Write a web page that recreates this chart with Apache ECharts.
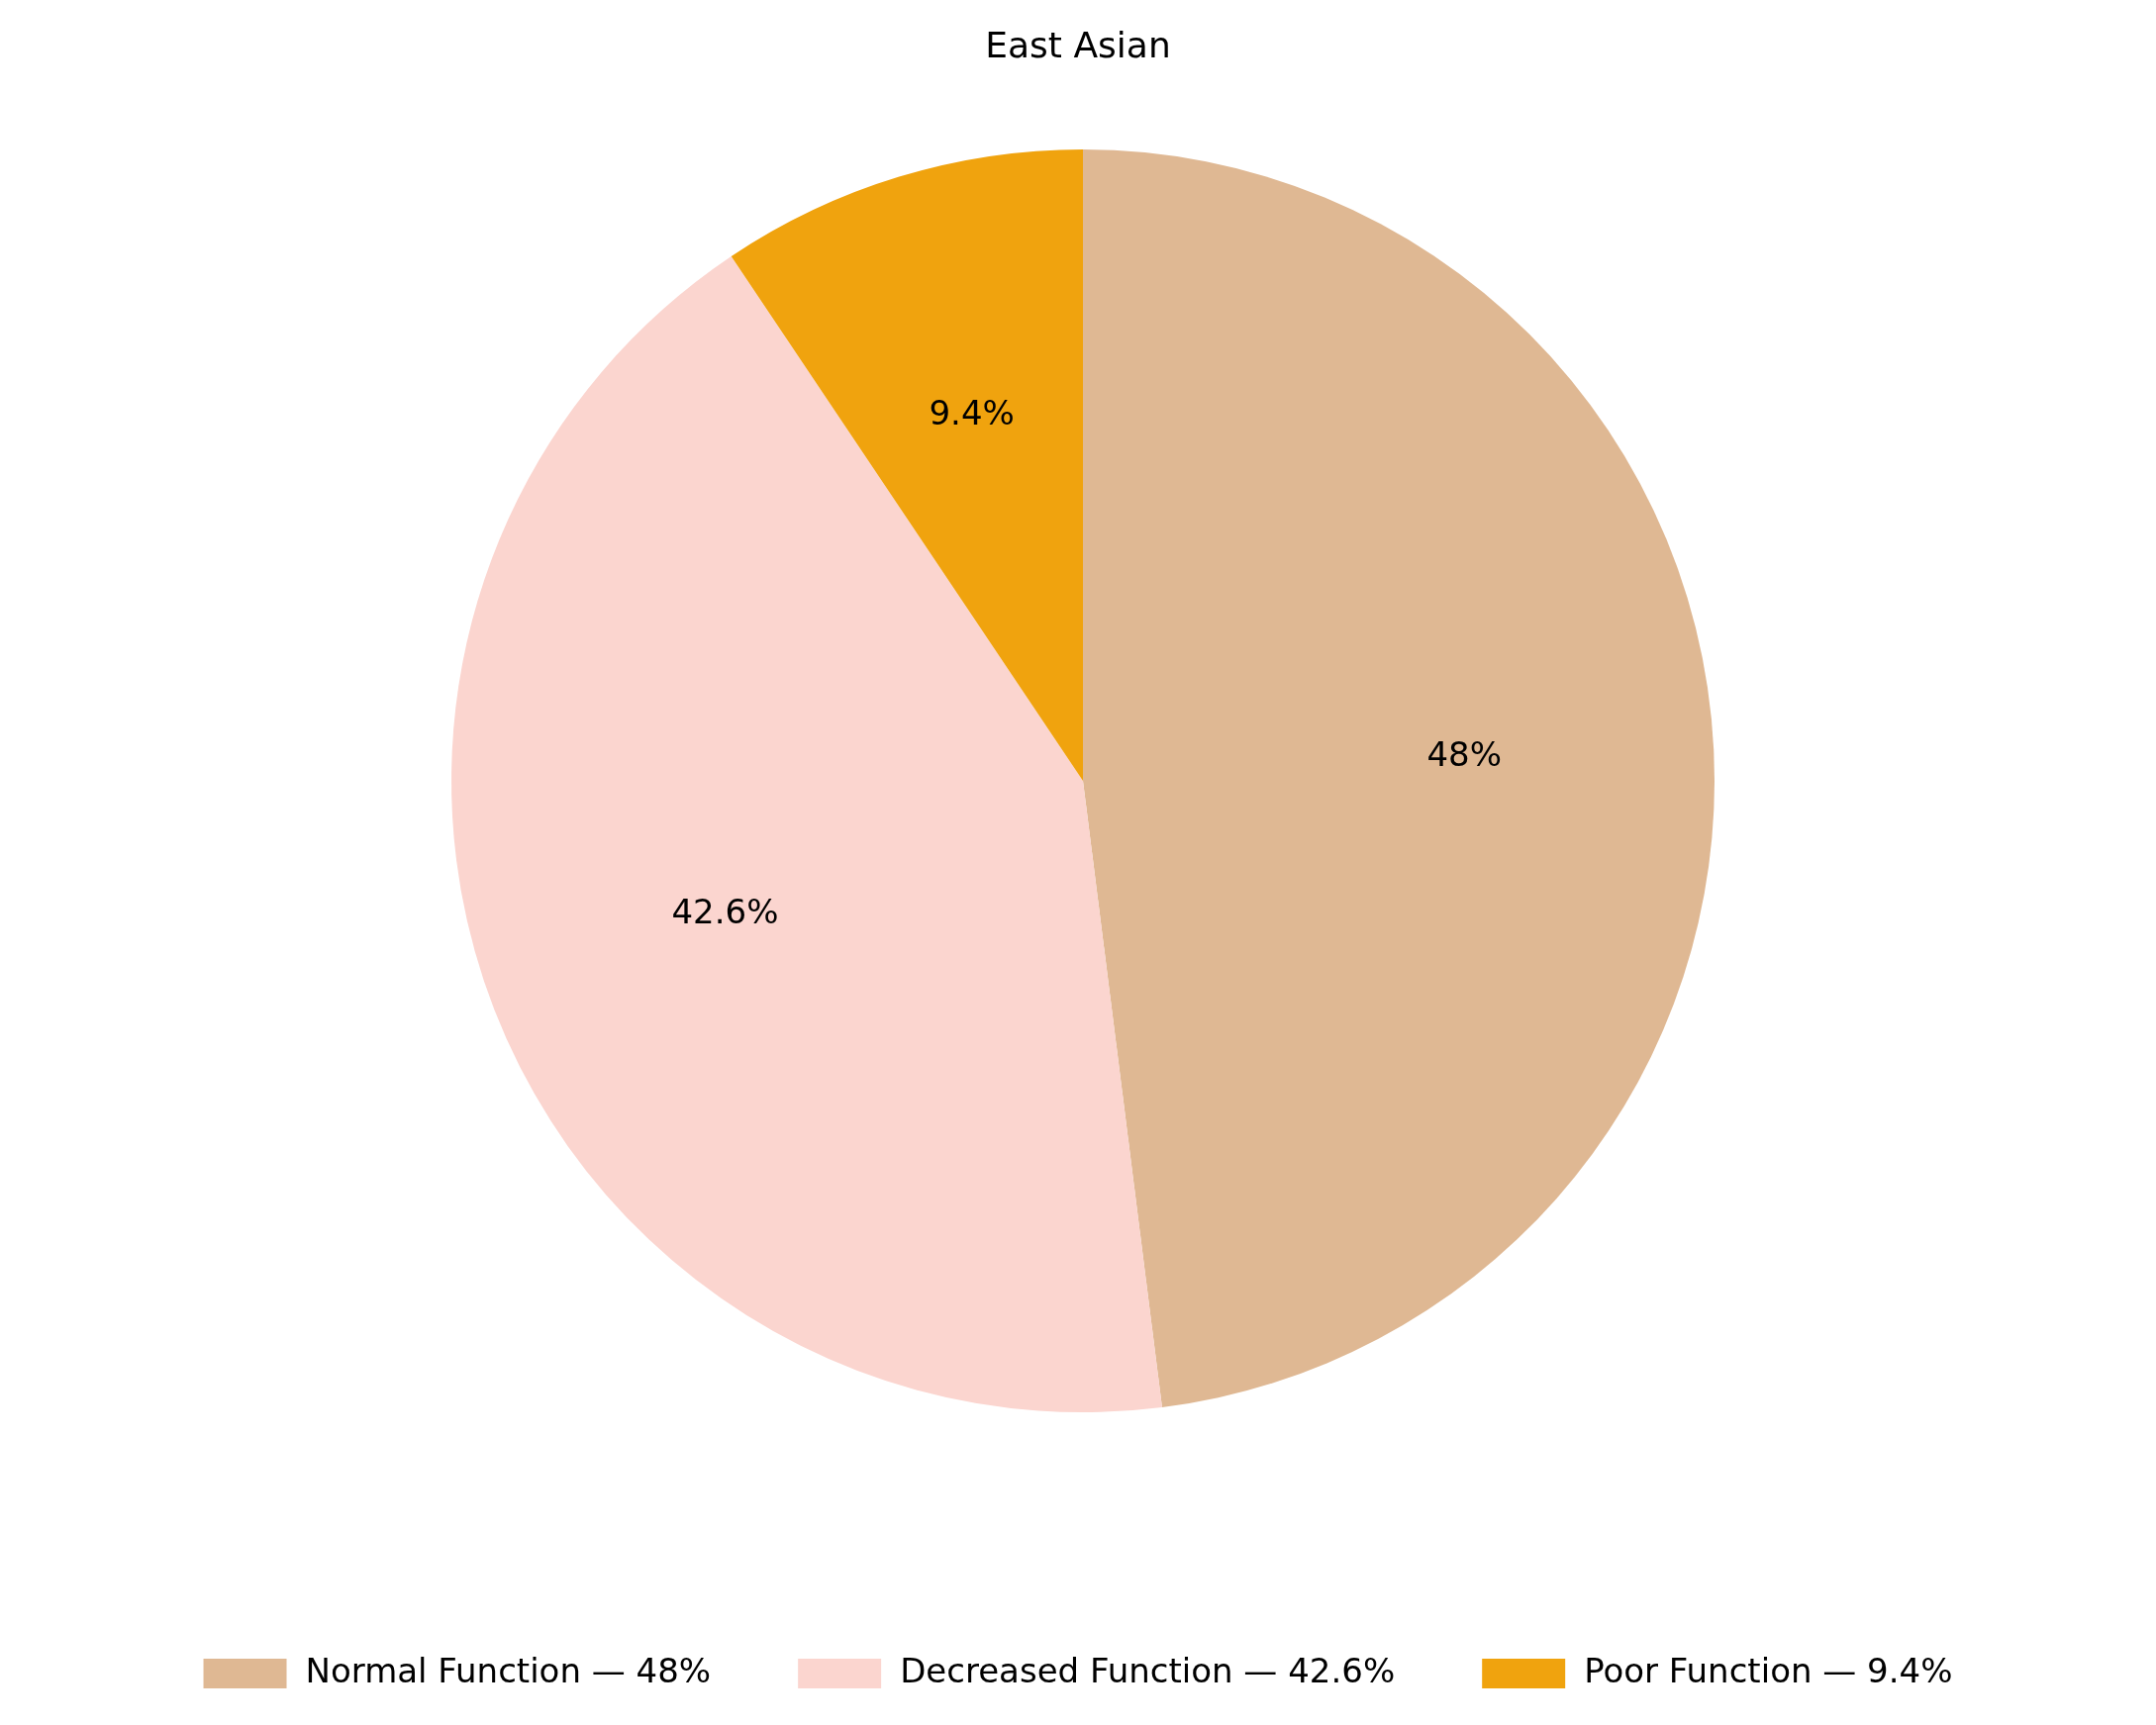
<!DOCTYPE html>
<html><head><meta charset="utf-8">
<script src="https://cdn.jsdelivr.net/npm/echarts@6/dist/echarts.min.js"></script>
<style>html,body{margin:0;padding:0;background:#fff}#c{width:2178px;height:1743px}</style>
</head><body><div id="c"></div>
<script>
const categories = ['Normal Function', 'Decreased Function', 'Poor Function'];
const values = [48, 42.6, 9.4];
const colors = ['#DFB893', '#FBD5CF', '#F0A30E'];
const title = 'East Asian';

const font = 'DejaVu Sans';
const data = categories.map((c, i) => ({ name: c, value: values[i], itemStyle: { color: colors[i] } }));
const chart = echarts.init(document.getElementById('c'));
chart.setOption({
  animation: false,
  title: { text: title, left: 'center', top: 26, textStyle: { fontFamily: font, fontSize: 36, fontWeight: 'normal', color: '#000' } },
  legend: {
    bottom: 30, left: 'center', itemWidth: 84, itemHeight: 30, itemGap: 88,
    icon: 'rect',
    formatter: n => n + ' — ' + values[categories.indexOf(n)] + '%',
    textStyle: { fontFamily: font, fontSize: 34, color: '#000', padding: [0, 0, 0, 14] },
    data: categories
  },
  series: [
    { type: 'pie', center: [1094, 789], radius: [0, 638], startAngle: 90, clockwise: true,
      label: { show: false }, labelLine: { show: false }, emphasis: { disabled: true }, data: data },
    { type: 'pie', center: [1094, 789], radius: [0, 766], startAngle: 90, clockwise: true, silent: true,
      itemStyle: { color: 'rgba(0,0,0,0)' }, legendHoverLink: false,
      label: { show: true, position: 'inside', fontFamily: font, fontSize: 34, color: '#000',
        formatter: p => p.value + '%' },
      labelLine: { show: false },
      data: categories.map((c, i) => ({ name: c + ' ', value: values[i], itemStyle: { color: 'rgba(0,0,0,0)' } })) }
  ]
});
</script></body></html>
